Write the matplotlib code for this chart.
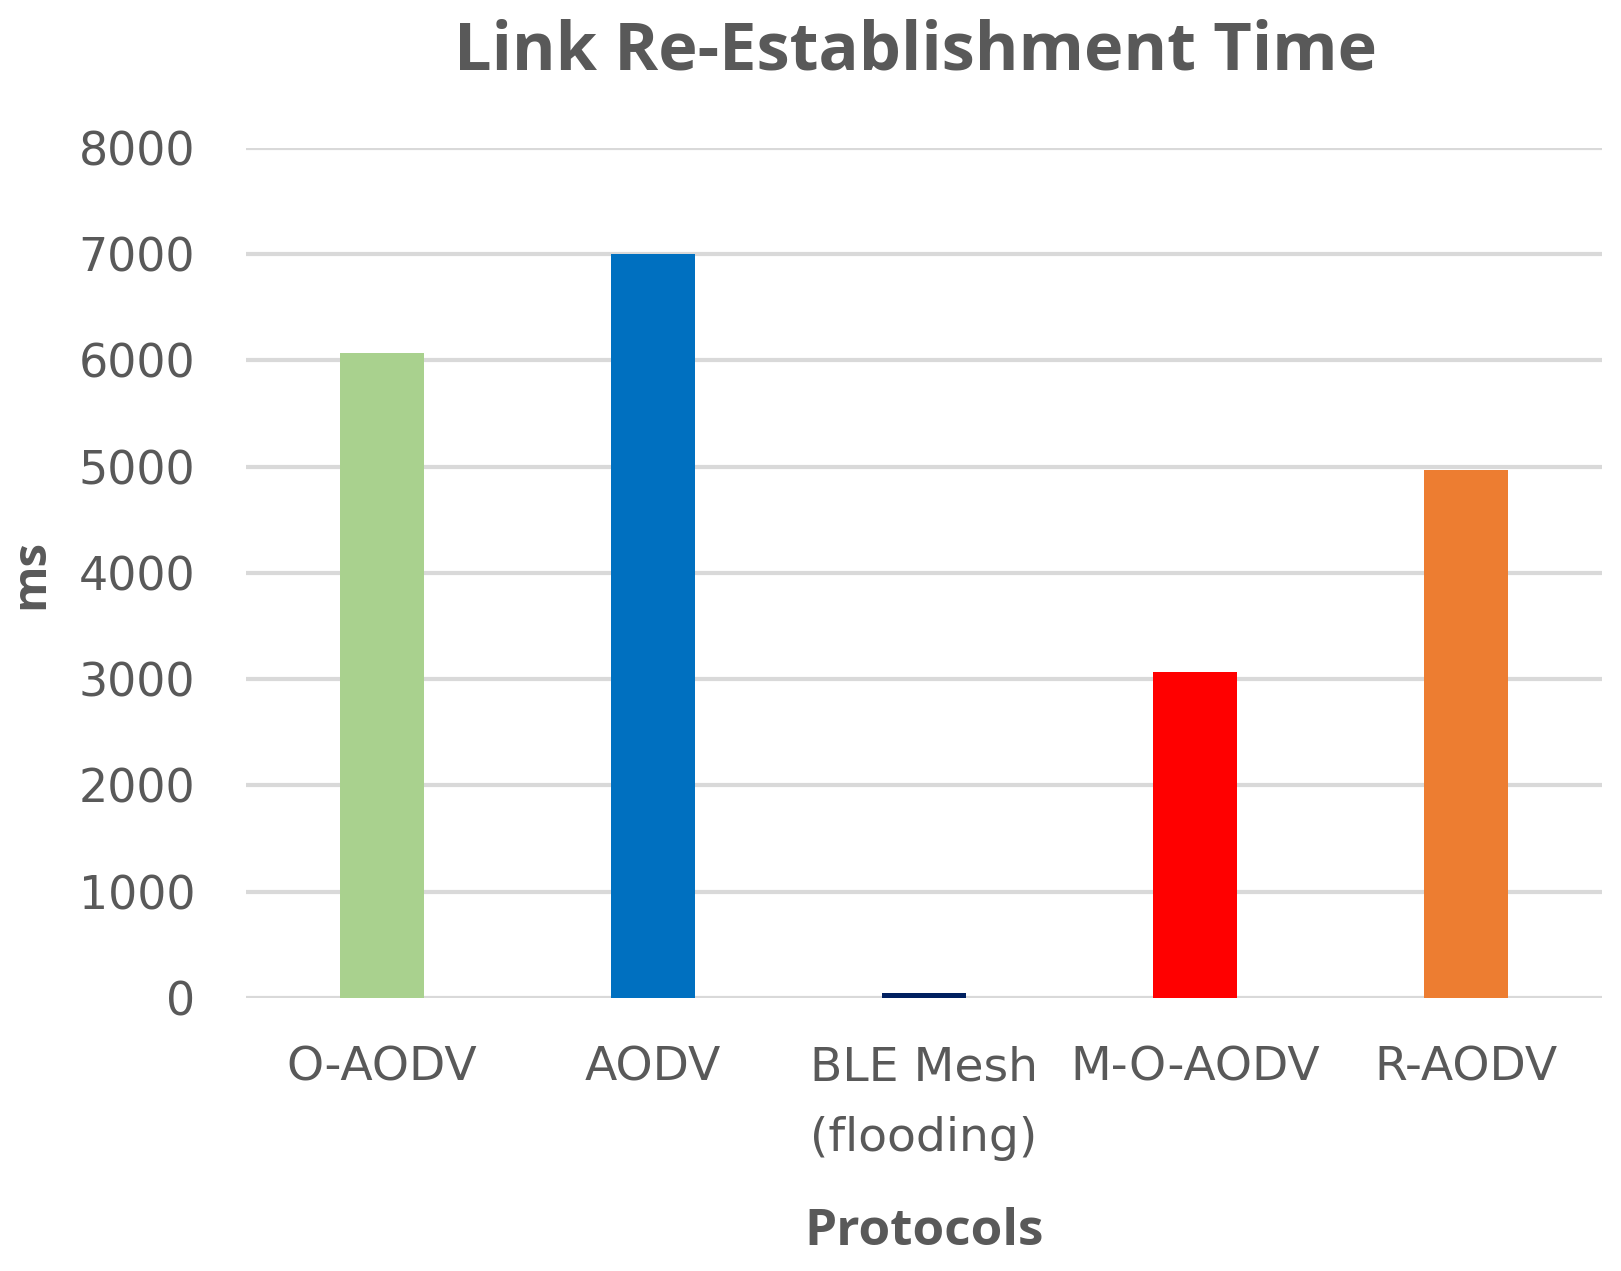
import matplotlib.pyplot as plt

# data
protocols = ["O-AODV", "AODV", "BLE Mesh\n(flooding)", "M-O-AODV", "R-AODV"]
timesMs = [6070, 7000, 50, 3070, 4970]
barColors = ["#a9d18e", "#0070c0", "#002060", "#ff0000", "#ed7d31"]
yTicks = [0, 1000, 2000, 3000, 4000, 5000, 6000, 7000, 8000]

textColor = "#595959"
plt.rcParams["font.family"] = ["Open Sans", "DejaVu Sans"]

fig = plt.figure(figsize=(16.21, 12.71), dpi=100)
ax = fig.add_axes([0.152, 0.2148, 0.836, 0.669])

ax.bar(range(len(protocols)), timesMs, width=0.31, color=barColors, zorder=3)

ax.set_xlim(-0.5, len(protocols) - 0.5)
ax.set_ylim(0, 8000)
ax.set_yticks(yTicks)
ax.set_xticks(range(len(protocols)))
ax.set_xticklabels(protocols, fontsize=34, color=textColor, linespacing=1.75,
                   family="DejaVu Sans")
ax.set_yticklabels([str(t) for t in yTicks], fontsize=33, color=textColor,
                   family="DejaVu Sans")
ax.tick_params(axis="both", length=0)
ax.tick_params(axis="y", pad=37)
ax.tick_params(axis="x", pad=34)

ax.grid(axis="y", color="#d9d9d9", linewidth=3, zorder=0)
for side in ["top", "right", "left", "bottom"]:
    ax.spines[side].set_visible(False)

fig.text(0.565, 0.959, "Link Re-Establishment Time", fontsize=48, fontweight="bold",
         color=textColor, ha="center", va="center")
fig.text(0.570, 0.031, "Protocols", fontsize=37, fontweight="bold",
         color=textColor, ha="center", va="center")
fig.text(0.019, 0.548, "ms", fontsize=34, fontweight="bold", rotation=90,
         color=textColor, ha="center", va="center")

fig.savefig("out.png", dpi=100)
